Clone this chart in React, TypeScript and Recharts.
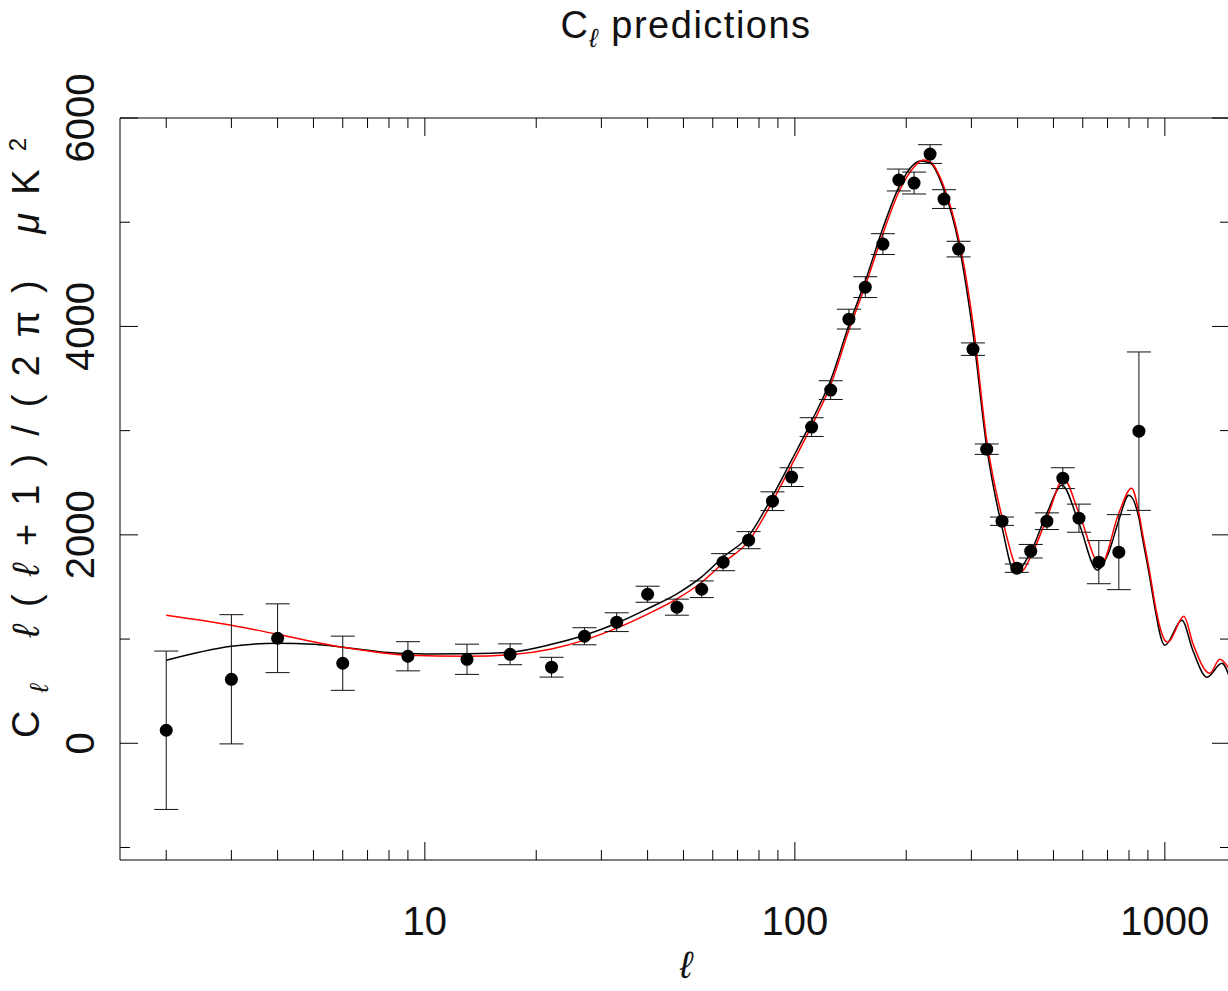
import {
  ComposedChart,
  Line,
  Scatter,
  ErrorBar,
  XAxis,
  YAxis,
  ReferenceLine,
} from "recharts";

// measured multipoles (ell), band power and 1-sigma error
const pointL = [2, 3, 4, 6, 9, 13, 17, 22, 27, 33, 40, 48, 56, 64, 75, 87, 98, 111, 125, 140, 155, 173, 191, 210, 232, 253, 277, 303, 330, 363, 398, 434, 480, 530, 586, 663, 751, 851];
const pointCl = [125, 614, 1008, 768, 835, 806, 854, 730, 1027, 1162, 1430, 1306, 1478, 1738, 1949, 2323, 2554, 3034, 3389, 4070, 4377, 4790, 5405, 5376, 5654, 5222, 4742, 3782, 2822, 2131, 1680, 1843, 2131, 2544, 2160, 1738, 1834, 2995];
const pointErr = [760, 620, 330, 260, 140, 145, 100, 95, 82, 90, 77, 77, 80, 82, 82, 90, 90, 90, 90, 95, 100, 100, 105, 105, 90, 90, 75, 60, 50, 40, 40, 65, 80, 100, 135, 207, 360, 760];

// model 1 (black)
const blackL = [2, 3, 4, 5, 6, 8, 10, 13, 17, 22, 27, 33, 40, 48, 56, 64, 75, 87, 98, 111, 125, 140, 155, 173, 191, 210, 218, 232, 253, 277, 303, 330, 363, 393, 434, 480, 527, 586, 657, 705, 751, 799, 851, 872, 911, 928, 951, 975, 1000, 1112, 1190, 1299, 1426, 1500];
const blackCl = [797, 931, 960, 950, 922, 870, 856, 859, 874, 950, 1037, 1152, 1291, 1434, 1597, 1786, 1990, 2371, 2717, 3091, 3485, 4013, 4435, 4944, 5337, 5558, 5587, 5568, 5309, 4800, 3936, 2842, 2074, 1642, 1834, 2208, 2477, 2112, 1661, 1830, 2141, 2381, 2160, 1949, 1584, 1411, 1200, 1018, 941, 1181, 893, 634, 768, 620];

// model 2 (red)
const redL = [2, 3, 4, 6, 9, 13, 17, 22, 27, 33, 40, 48, 56, 64, 75, 87, 98, 111, 125, 140, 155, 173, 191, 210, 222, 232, 253, 277, 303, 330, 363, 408, 434, 480, 533, 586, 671, 751, 813, 851, 872, 911, 928, 951, 975, 1000, 1019, 1126, 1190, 1323, 1408, 1500];
const redCl = [1229, 1133, 1046, 922, 845, 835, 850, 905, 990, 1105, 1240, 1385, 1545, 1730, 1940, 2320, 2670, 3045, 3440, 3965, 4390, 4890, 5290, 5530, 5597, 5580, 5338, 4848, 4032, 2909, 2170, 1642, 1790, 2160, 2534, 2208, 1709, 2208, 2448, 2208, 1997, 1632, 1459, 1248, 1085, 989, 970, 1219, 960, 672, 806, 700];

const xTicks = [2, 3, 4, 5, 6, 7, 8, 9, 10, 20, 30, 40, 50, 60, 70, 80, 90, 100, 200, 300, 400, 500, 600, 700, 800, 900, 1000];
const xMajor = [10, 100, 1000];
const yTicks = [-1000, 0, 1000, 2000, 3000, 4000, 5000, 6000];
const yLabelled = [0, 2000, 4000, 6000];

const points = pointL.map((l, i) => ({ l, v: pointCl[i], err: pointErr[i] }));
const black = blackL.map((l, i) => ({ l, v: blackCl[i] }));
const red = redL.map((l, i) => ({ l, v: redCl[i] }));

const PLOT = { left: 120, right: 1230, top: 118, bottom: 860 };
const FONT = "'Liberation Sans', Arial, sans-serif";

function XTick(props: any) {
  const { x, payload } = props;
  const major = xMajor.includes(payload.value);
  const len = major ? 18 : 10;
  return (
    <g>
      <line x1={x} x2={x} y1={PLOT.bottom} y2={PLOT.bottom - len} stroke="#000" />
      <line x1={x} x2={x} y1={PLOT.top} y2={PLOT.top + len} stroke="#000" />
      {major && (
        <text x={x} y={935} textAnchor="middle" fontSize={40} fontFamily={FONT} fill="#111">
          {payload.value}
        </text>
      )}
    </g>
  );
}

function YTick(props: any) {
  const { y, payload } = props;
  const major = payload.value % 2000 === 0;
  const len = major ? 18 : 10;
  return (
    <g>
      <line x1={PLOT.left} x2={PLOT.left + len} y1={y} y2={y} stroke="#000" />
      <line x1={PLOT.right} x2={PLOT.right - len} y1={y} y2={y} stroke="#000" />
      {yLabelled.includes(payload.value) && (
        <text
          x={94}
          y={y}
          transform={`rotate(-90, 94, ${y})`}
          textAnchor="middle"
          fontSize={40}
          fontFamily={FONT}
          fill="#111"
        >
          {payload.value}
        </text>
      )}
    </g>
  );
}

function Dot(props: any) {
  return <circle cx={props.cx} cy={props.cy} r={6.5} fill="#000" />;
}

export default function App() {
  return (
    <div
      style={{
        position: "absolute",
        left: 0,
        top: 0,
        width: 1228,
        height: 991,
        overflow: "hidden",
        background: "#fff",
      }}
    >
      <ComposedChart
        width={1240}
        height={991}
        margin={{ top: PLOT.top, right: 10, bottom: 101, left: 0 }}
      >
        <XAxis
          dataKey="l"
          type="number"
          scale="log"
          domain={[1.5, 1500]}
          allowDataOverflow
          ticks={xTicks}
          interval={0}
          height={30}
          tickLine={false}
          axisLine={{ stroke: "#000" }}
          tick={<XTick />}
        />
        <YAxis
          type="number"
          domain={[-1120, 6000]}
          allowDataOverflow
          ticks={yTicks}
          interval={0}
          width={120}
          tickLine={false}
          axisLine={{ stroke: "#000" }}
          tick={<YTick />}
        />
        <ReferenceLine y={6000} stroke="#000" />
        <Line
          data={black}
          dataKey="v"
          type="monotone"
          stroke="#000"
          strokeWidth={1.5}
          dot={false}
          activeDot={false}
          isAnimationActive={false}
        />
        <Line
          data={red}
          dataKey="v"
          type="monotone"
          stroke="#ff0000"
          strokeWidth={1.5}
          dot={false}
          activeDot={false}
          isAnimationActive={false}
        />
        <Scatter data={points} dataKey="v" shape={<Dot />} isAnimationActive={false}>
          <ErrorBar dataKey="err" direction="y" width={12} stroke="#111" strokeWidth={1} />
        </Scatter>
      </ComposedChart>
      <svg
        width={1228}
        height={991}
        style={{ position: "absolute", left: 0, top: 0, pointerEvents: "none" }}
        fontFamily={FONT}
        fill="#111"
      >
        <text x={686} y={38} textAnchor="middle" fontSize={38} letterSpacing={1.5}>
          C
          <tspan fontSize={26} dy={9} fontStyle="italic">ℓ</tspan>
          <tspan dy={-9}>{"  predictions"}</tspan>
        </text>
        <text
          x={39}
          y={438}
          transform="rotate(-90, 39, 438)"
          textAnchor="middle"
          fontSize={38}
          textLength={600}
          lengthAdjust="spacing"
        >
          C
          <tspan fontSize={26} dy={9} fontStyle="italic">ℓ</tspan>
          <tspan dy={-9} fontStyle="italic">{" ℓ"}</tspan>
          <tspan>(</tspan>
          <tspan fontStyle="italic">ℓ</tspan>
          <tspan>{"+1)/(2π)  "}</tspan>
          <tspan fontStyle="italic">μ</tspan>
          <tspan>K</tspan>
          <tspan fontSize={24} dy={-13}>2</tspan>
        </text>
        <text x={686} y={978} textAnchor="middle" fontSize={38} fontStyle="italic">
          ℓ
        </text>
      </svg>
    </div>
  );
}
